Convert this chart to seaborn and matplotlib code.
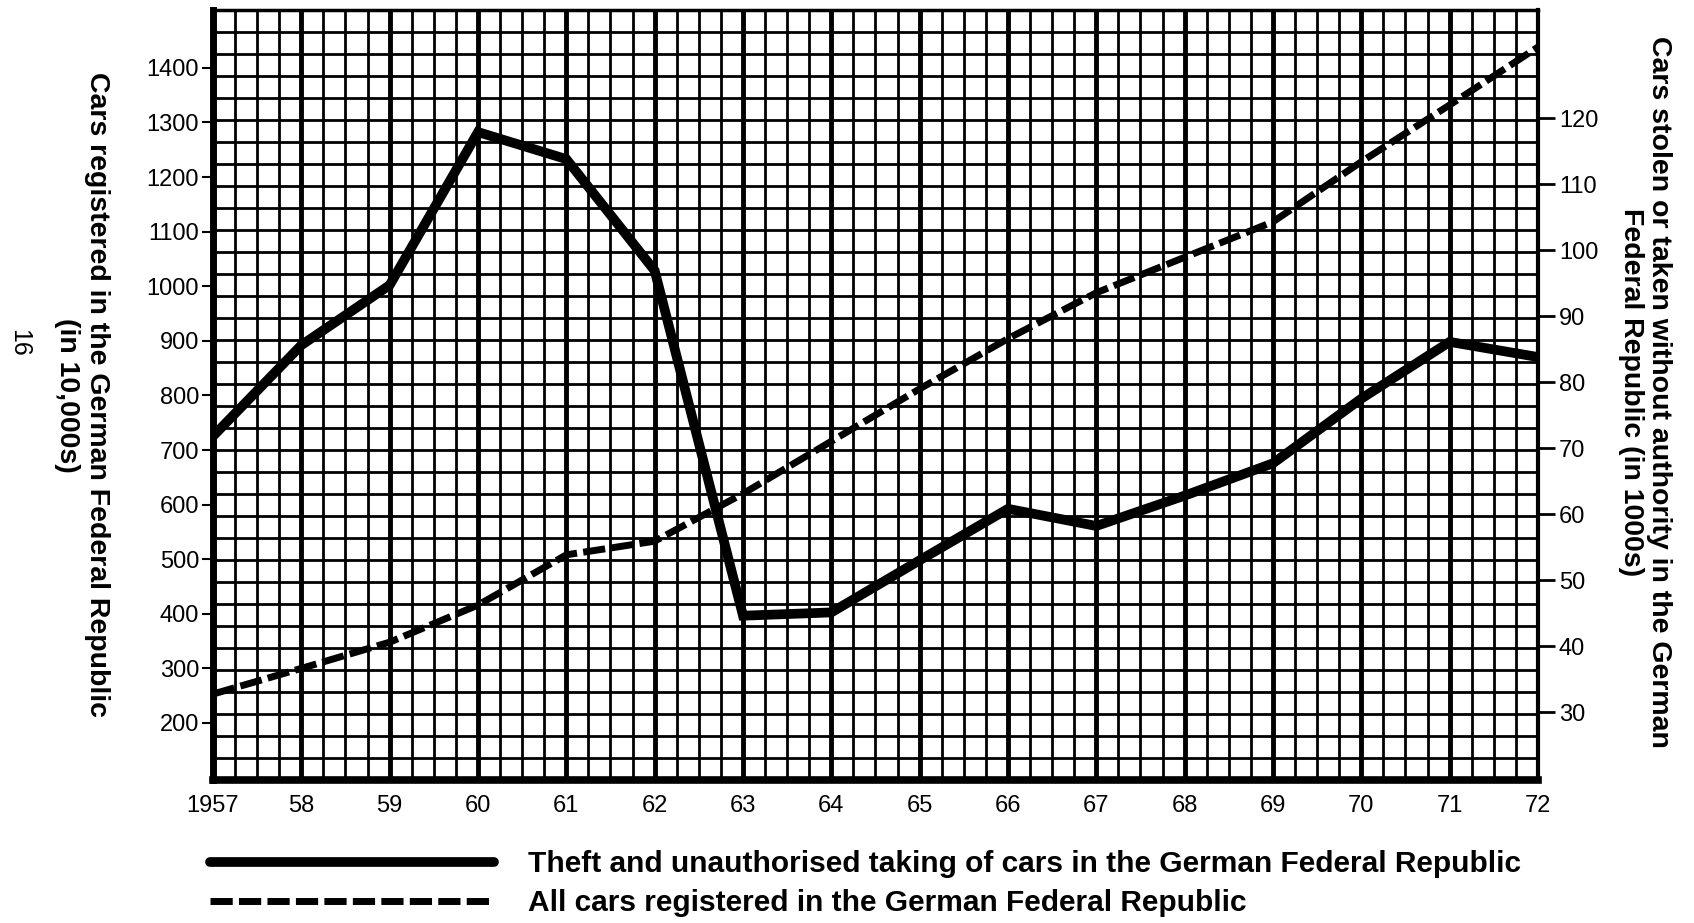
import numpy as np
import pandas as pd
import matplotlib
matplotlib.use("Agg")
import matplotlib.pyplot as plt
import seaborn as sns
from matplotlib.ticker import MultipleLocator

# --- data ---
years = [1957, 1958, 1959, 1960, 1961, 1962, 1963, 1964,
         1965, 1966, 1967, 1968, 1969, 1970, 1971, 1972]
year_labels = ["1957", "58", "59", "60", "61", "62", "63", "64",
               "65", "66", "67", "68", "69", "70", "71", "72"]
# cars stolen or taken without authority (in 1000s) -> right axis
stolen = [71.8, 85.6, 94.7, 117.9, 113.8, 96.9, 44.6, 45.1,
          53.0, 60.8, 58.2, 62.8, 67.7, 77.5, 86.1, 83.8]
# all cars registered (in 10,000s) -> left axis
registered = [253, 300, 348, 416, 508, 533, 620, 716,
              812, 904, 988, 1053, 1118, 1228, 1332, 1438]

left_ticks = list(range(200, 1500, 100))
right_ticks = list(range(30, 130, 10))

legend_labels = ["Theft and unauthorised taking of cars in the German Federal Republic",
                 "All cars registered in the German Federal Republic"]

df = pd.DataFrame({"year": years, "stolen": stolen, "registered": registered})

sns.set_style("white")
plt.rcParams["font.family"] = ["Liberation Sans", "DejaVu Sans"]
plt.rcParams["text.color"] = "black"
plt.rcParams["axes.labelcolor"] = "black"
plt.rcParams["xtick.color"] = "black"
plt.rcParams["ytick.color"] = "black"

fig = plt.figure(figsize=(16.94, 9.23), dpi=100)
ax = fig.add_axes([213 / 1694, 1 - 780 / 923, 1325 / 1694, 770 / 923])
ax2 = ax.twinx()

# dashed series on the left axis
sns.lineplot(data=df, x="year", y="registered", ax=ax, color="black",
             linewidth=5, linestyle=(0, (3.2, 0.9)), legend=False, zorder=5)
# solid series on the right axis
sns.lineplot(data=df, x="year", y="stolen", ax=ax2, color="black",
             linewidth=7, solid_joinstyle="miter", legend=False, zorder=5)

ax.set_xlim(1957, 1972)
ax.set_ylim(95.6, 1505.9)
ax2.set_ylim(19.7, 136.4)

# graph-paper grid
ax.set_xticks(years)
ax.set_xticklabels(year_labels)
ax.xaxis.set_minor_locator(MultipleLocator(0.25))
ax.set_yticks(left_ticks)
ax.set_yticks(np.linspace(95.6, 1505.9, 36), minor=True)
ax.grid(True, which="major", axis="x", color="black", linewidth=3.5)
ax.grid(True, which="minor", axis="both", color="black", linewidth=2.0)
ax.set_axisbelow(True)
ax.tick_params(which="minor", length=0)
ax.tick_params(axis="y", which="major", length=8, width=1.5, labelsize=17,
               pad=2, direction="out", colors="black")
ax.tick_params(axis="x", which="major", length=6, width=1.5, labelsize=17,
               pad=5, direction="out", colors="black")

ax2.set_yticks(right_ticks)
ax2.tick_params(axis="y", length=12, width=2, labelsize=17, pad=3,
                direction="out", colors="black")
ax2.grid(False)

for s in ax2.spines.values():
    s.set_visible(False)
ax.spines["left"].set_linewidth(5)
ax.spines["bottom"].set_linewidth(5.5)
ax.spines["right"].set_linewidth(3)
ax.spines["top"].set_linewidth(2.5)
for s in ax.spines.values():
    s.set_color("black")
    s.set_visible(True)

ax.set_xlabel("")
ax.set_ylabel("")
ax2.set_ylabel("")

fig.text(82 / 1694, 1 - 395 / 923,
         "Cars registered in the German Federal Republic\n(in 10,000s)",
         rotation=270, ha="center", va="center", multialignment="center",
         fontsize=20.5, fontweight="bold", linespacing=1.2)
fig.text(1645 / 1694, 1 - 392 / 923,
         "Cars stolen or taken without authority in the German\nFederal Republic (in 1000s)",
         rotation=270, ha="center", va="center", multialignment="center",
         fontsize=20.5, fontweight="bold", linespacing=1.1)
fig.text(19 / 1694, 1 - 343 / 923, "16", rotation=270, ha="center",
         va="center", fontsize=18)

handles = [ax2.lines[0], ax.lines[0]]
fig.legend(handles, legend_labels, loc="upper left",
           bbox_to_anchor=(210 / 1694, 1 - 850 / 923), frameon=False,
           prop={"weight": "bold", "size": 21.5}, handlelength=9.5,
           handletextpad=1.15, labelspacing=0.38, borderpad=0,
           borderaxespad=0)

fig.savefig("out.png", dpi=100)
